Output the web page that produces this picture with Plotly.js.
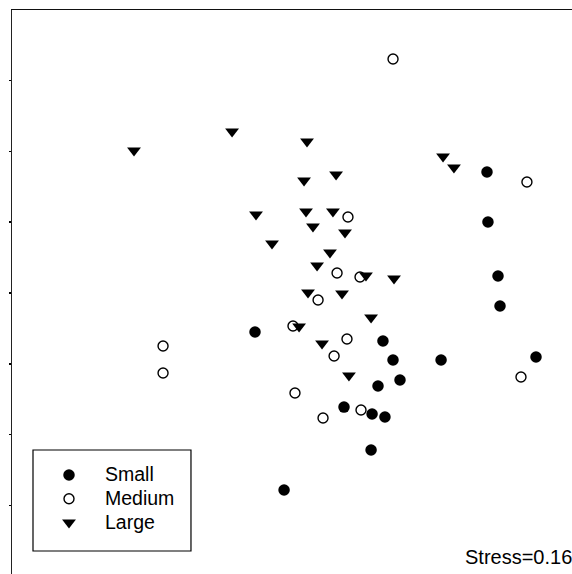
<!DOCTYPE html>
<html>
<head>
<meta charset="utf-8">
<script src="https://cdn.plot.ly/plotly-3.0.1.min.js"></script>
<style>html,body{margin:0;padding:0;background:#fff;}#chart{width:572px;height:574px;}</style>
</head>
<body>
<div id="chart"></div>
<script>
// NMDS ordination scores (axis units)
const groupNames = ["Small", "Medium", "Large"];

const smallX = [-0.247, 0.656, 0.727, 0.776, 0.621, 0.381, 0.579, 0.670, 0.572, -0.042, 1.066, 1.390, 1.397, 1.468, 1.482, 1.736];
const smallY = [-0.275, -0.339, -0.473, -0.614, -0.656, -0.805, -0.854, -0.875, -1.108, -1.390, -0.473, 0.854, 0.501, 0.120, -0.092, -0.452];

const mediumX = [0.727, 1.672, 0.409, 0.332, 0.494, 0.198, 0.021, 0.402, 0.311, 0.035, 0.501, 0.233, -0.896, -0.896, 1.630];
const mediumY = [1.651, 0.783, 0.536, 0.141, 0.113, -0.049, -0.233, -0.325, -0.445, -0.706, -0.826, -0.882, -0.374, -0.565, -0.593];

const largeX = [-1.101, -0.409, 0.120, 0.099, 0.325, -0.240, 0.113, 0.303, 0.162, 0.388, -0.127, 0.282, 0.191, 0.536, 0.734, 0.127, 0.367, 0.572, 0.064, 0.226, 0.416, 1.080, 1.157];
const largeY = [1.006, 1.140, 1.069, 0.794, 0.836, 0.554, 0.575, 0.575, 0.469, 0.427, 0.349, 0.286, 0.194, 0.123, 0.102, 0.004, -0.004, -0.173, -0.236, -0.356, -0.582, 0.963, 0.886];

const yTickVals = [-1.5, -1.0, -0.5, 0, 0.5, 1.0, 1.5];
const stressLabel = "Stress=0.16";

const FONT = "Arial, 'Liberation Sans', sans-serif";
const legendLabel = (s) => '<span style="font-size:19.5px">' + s + '</span>';

const traces = [
  {x: smallX, y: smallY, name: legendLabel(groupNames[0]), type: "scatter", mode: "markers",
   marker: {symbol: "circle", size: 11.5, color: "#000"}},
  {x: mediumX, y: mediumY, name: legendLabel(groupNames[1]), type: "scatter", mode: "markers",
   marker: {symbol: "circle-open", size: 10, color: "#000", line: {width: 1.4, color: "#000"}}},
  {x: largeX, y: largeY, name: legendLabel(groupNames[2]), type: "scatter", mode: "markers",
   marker: {symbol: "triangle-down", size: 12, color: "#000"}}
];

const layout = {
  width: 572, height: 574,
  margin: {l: 12, r: 0, t: 10, b: 0, pad: 0},
  paper_bgcolor: "#fff", plot_bgcolor: "#fff",
  font: {family: FONT, color: "#000", size: 19},
  showlegend: true,
  legend: {
    x: 0.0375, y: 0.2056, xanchor: "left", yanchor: "top",
    borderwidth: 0, bgcolor: "rgba(0,0,0,0)",
    font: {family: FONT, size: 16, color: "#000"},
    itemwidth: 62, tracegroupgap: 0
  },
  shapes: [{
    type: "rect", xref: "paper", yref: "paper", layer: "above",
    x0: 0.0375, x1: 0.3196, y0: 0.0408, y1: 0.2199,
    line: {color: "#000", width: 1.2}, fillcolor: "rgba(0,0,0,0)"
  }],
  xaxis: {
    range: [-1.962, 1.990], side: "top",
    showline: true, linecolor: "#111", linewidth: 1.5,
    showgrid: false, zeroline: false, ticks: "", showticklabels: false, fixedrange: true
  },
  yaxis: {
    range: [-1.983, 1.997],
    showline: true, linecolor: "#222", linewidth: 1.5,
    showgrid: false, zeroline: false,
    tickvals: yTickVals, ticks: "outside", ticklen: 2, tickwidth: 1.5, tickcolor: "#000",
    showticklabels: false, fixedrange: true
  },
  annotations: [{
    text: stressLabel, xref: "paper", yref: "paper",
    x: 1, y: 0.03, xanchor: "right", yanchor: "middle", showarrow: false, xshift: 2,
    font: {family: FONT, size: 20, color: "#000"}
  }]
};

Plotly.newPlot("chart", traces, layout, {staticPlot: true, displayModeBar: false});
</script>
</body>
</html>
